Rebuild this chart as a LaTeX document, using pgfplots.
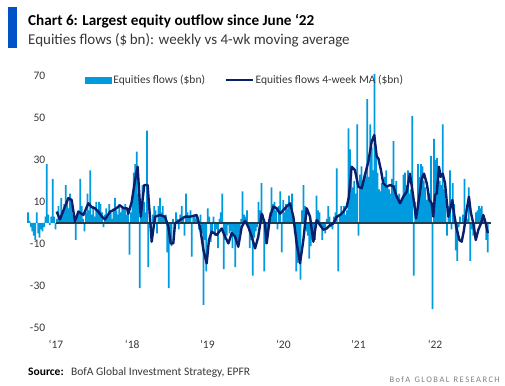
\documentclass[border=0pt]{standalone}
\usepackage{fontspec}
\setmainfont{Carlito}
\usepackage{pgfplots}
\pgfplotsset{compat=1.18}
\usepackage{pgfplotstable}

\definecolor{barblue}{RGB}{0,154,222}
\definecolor{navy}{RGB}{10,31,107}
\definecolor{zeroline}{RGB}{35,60,75}
\definecolor{titleblue}{RGB}{0,83,198}
\definecolor{txtgray}{RGB}{55,55,55}

% weekly equity flows ($bn), one value per week (index 0 = Aug 2016)
\pgfplotstableread[row sep=\\]{
v\\
5\\ 1\\ -2\\ -4\\ -6\\ -8\\ 5\\ -5\\ -7\\ -3\\
-4\\ -2\\ 3\\ 28\\ 4\\ -1\\ 3\\ 21\\ 3\\ -3\\
2\\ 8\\ 3\\ 12\\ 5\\ 9\\ 18\\ 11\\ 7\\ 14\\
9\\ 4\\ 2\\ -8\\ 3\\ 6\\ 21\\ 8\\ 2\\ -4\\
5\\ 14\\ 6\\ 25\\ 4\\ 8\\ 3\\ 10\\ 6\\ 10\\
9\\ 5\\ -2\\ 4\\ 7\\ 3\\ 9\\ 5\\ 2\\ 7\\
12\\ 6\\ 4\\ 9\\ 5\\ 8\\ 7\\ 9\\ 4\\ 6\\
-15\\ 5\\ 10\\ 24\\ 28\\ 34\\ 14\\ -31\\ 8\\ 18\\
10\\ 5\\ 44\\ -21\\ 6\\ -6\\ 4\\ 8\\ 6\\ -5\\
8\\ 12\\ 5\\ 8\\ 3\\ 4\\ -14\\ -31\\ -8\\ -11\\
2\\ -3\\ 5\\ 2\\ -3\\ 4\\ 8\\ 3\\ -6\\ 14\\
5\\ 3\\ 6\\ -16\\ 3\\ 4\\ 2\\ 3\\ -3\\ 4\\
-5\\ -39\\ -8\\ -23\\ 7\\ 3\\ -9\\ -4\\ 3\\ -6\\
-3\\ -12\\ 2\\ 5\\ 14\\ -22\\ -8\\ -6\\ -1\\ -5\\
-4\\ -12\\ -6\\ -21\\ -10\\ -8\\ -5\\ 2\\ 15\\ 4\\
3\\ 6\\ -2\\ -12\\ -8\\ -25\\ -7\\ -4\\ -2\\ 10\\
6\\ 19\\ 4\\ -23\\ -10\\ -6\\ 2\\ 5\\ 17\\ 9\\
10\\ 6\\ -3\\ 8\\ 15\\ -14\\ 11\\ 5\\ 9\\ 7\\
13\\ 6\\ 14\\ 3\\ -5\\ -23\\ -19\\ -16\\ -27\\ 6\\
18\\ 8\\ -4\\ -6\\ -17\\ -11\\ -8\\ -6\\ -8\\ 13\\
6\\ 5\\ -2\\ -8\\ -3\\ -5\\ 2\\ 8\\ 3\\ -2\\
-3\\ 3\\ 5\\ 26\\ -23\\ 4\\ 8\\ 5\\ 8\\ 4\\
6\\ 45\\ 35\\ 24\\ 17\\ 20\\ 14\\ 47\\ -6\\ 23\\
27\\ 18\\ 23\\ 22\\ 59\\ 22\\ 47\\ 36\\ 25\\ 71\\
33\\ 24\\ 16\\ 15\\ 19\\ 20\\ 22\\ 25\\ 17\\ 16\\
14\\ 21\\ 39\\ 18\\ 20\\ 13\\ 14\\ 10\\ 12\\ 23\\
24\\ 18\\ 25\\ 14\\ 16\\ 51\\ -25\\ 10\\ 4\\ 28\\
22\\ 28\\ 27\\ 20\\ 17\\ 11\\ 15\\ 14\\ 32\\ -41\\
40\\ 30\\ 31\\ 25\\ 20\\ 18\\ 47\\ 16\\ 11\\ -6\\
8\\ 25\\ -3\\ 19\\ 9\\ -13\\ -18\\ -2\\ 3\\ 0\\
4\\ 21\\ 3\\ 2\\ 17\\ -18\\ -3\\ -6\\ -4\\ 5\\
6\\ 8\\ 7\\ 8\\ 3\\ 2\\ -8\\ -14\\
}\weekly

% 4-week moving average ($bn) (x = week index)
\pgfplotstableread[row sep=\\]{
i v\\
19.8 5.4\\ 22 1.7\\ 25.5 7.8\\ 27.8 11.8\\ 30.1 11\\ 32.4 0.6\\ 34.7 5.4\\
38.2 3.8\\ 41.6 9.4\\ 44 7.5\\ 46.2 7\\ 48.5 5.4\\ 51 3\\ 53.1 1.7\\
56.6 5.4\\ 60 6.5\\ 63.4 8.4\\ 66 7\\ 68.3 7\\ 69.2 4.4\\ 71.5 10\\
73.8 20.3\\ 75.6 26.8\\ 77.7 3\\ 80.2 18.1\\ 82.5 18.1\\ 85.3 -8.9\\
87.6 3\\ 91 3.8\\ 94.5 3\\ 96.8 -1.8\\ 98.4 -9.7\\ 100.2 -9.7\\
101.4 -0.2\\ 104.8 1.4\\ 108.3 3\\ 111.7 3\\ 116.3 3.8\\ 118.6 -1.8\\
121 -12.9\\ 123.2 -19.2\\ 124.8 -8.1\\ 126.7 -4.1\\ 130.1 -5.7\\
133.6 -2.6\\ 135.9 -6.5\\ 138.2 -9.7\\ 140.5 -4.8\\ 142.8 -6.5\\
145 -11.3\\ 147.4 -1.8\\ 149.7 1\\ 151.9 -1.8\\ 154.3 -6.5\\
156.6 -12.1\\ 158.8 -6.5\\ 161.2 4.4\\ 163.4 -0.2\\ 164.6 -9.7\\
166.9 3\\ 169.2 7.8\\ 171.5 7\\ 173.8 4.4\\ 176.1 6.2\\ 178.4 7.8\\
180.7 9.4\\ 183 3\\ 185.3 -9.7\\ 187.6 -19.2\\ 189.9 -8.1\\ 192.2 7\\
194.5 3\\ 196.8 -8.9\\ 199.1 1.4\\ 201.4 -1\\ 203.7 -3.2\\ 206 -2.6\\
208.3 -1\\ 210.6 -0.2\\ 212.9 3\\ 215.2 3.8\\ 217.5 5.4\\ 219.8 7.8\\
221.2 12\\ 223.2 26.8\\ 225.5 25.2\\ 227.8 17.3\\ 230.1 16.5\\
232.4 22.9\\ 234.7 29.2\\ 237 38.7\\ 238.8 41.9\\ 240.5 31.6\\
241.6 30.8\\ 243.4 25.2\\ 245 18.9\\ 247.4 17.3\\ 249.7 18.1\\
252 17.3\\ 254.3 12.5\\ 256.6 9.4\\ 258.8 12.5\\ 261.2 14.9\\
263.4 23.5\\ 265.7 12.5\\ 267.6 2.2\\ 269.2 9.4\\ 271.5 21\\
273.1 23.5\\ 275 18.9\\ 276.8 11\\ 278.4 9.4\\ 279.5 3\\ 280.7 13.3\\
281.9 14.1\\ 283.4 26.8\\ 284.6 22\\ 286 23.5\\ 287.6 18.9\\ 288.7 11\\
289.9 3\\ 291 6.2\\ 292.6 11\\ 293.8 4.6\\ 295.6 -2.6\\ 297.5 -8.1\\
299.1 -8.9\\ 300.7 -3.2\\ 302.5 6.2\\ 304.1 12.5\\ 305.3 5.4\\
307.1 -0.2\\ 308.8 -8.1\\ 310.6 -3.2\\ 312.4 -0.2\\ 314 3.8\\
315.7 -0.2\\ 317.1 -4.8\\
}\mavg

\begin{document}
\begin{tikzpicture}
\useasboundingbox (0pt,0pt) rectangle (505pt,-385pt);
\fill[titleblue] (8.3pt,-7pt) rectangle (17.3pt,-48pt);
\node[anchor=base west, inner sep=0pt, font=\bfseries\fontsize{15.2}{18}\selectfont] at (28pt,-26pt) {Chart 6: Largest equity outflow since June ‘22};
\node[anchor=base west, inner sep=0pt, font=\fontsize{15}{18}\selectfont, text=txtgray] at (28pt,-45pt) {Equities flows (\$\,bn): weekly vs 4-wk moving average};
\begin{axis}[
  at={(25.1pt,-332.2pt)}, anchor=south west,
  scale only axis, width=469.8pt, height=264.6pt,
  xmin=-2, xmax=322, ymin=-52, ymax=74,
  axis line style={draw=none},
  major tick length=0pt,
  ytick={-50,-30,-10,10,30,50,70},
  yticklabels={-50,-30,-10,10,30,50,70},
  xtick={19.3,71.9,123.7,176.1,227.8,280.7},
  xticklabels={‘17,‘18,‘19,‘20,‘21,‘22},
  ticklabel style={font=\fontsize{11.5}{13}\selectfont, text=txtgray},
  yticklabel style={anchor=east, xshift=23.6pt},
  xticklabel style={yshift=-4pt},
  clip=false,
  legend columns=2,
  legend style={at={(0.127,0.953)}, anchor=west, draw=none, fill=none,
    inner sep=0pt, font=\fontsize{11.5}{13}\selectfont, text=txtgray,
    /tikz/every even column/.append style={column sep=18pt},
    nodes={inner sep=1.5pt}},
]
\addplot[ybar, bar width=1.75pt, fill=barblue, draw=none,
  legend image code/.code={\fill[barblue] (0pt,-3.5pt) rectangle (27pt,3.5pt);}]
  table[x expr=\coordindex, y=v]{\weekly};
\addlegendentry{Equities flows (\$bn)}
\addplot[zeroline, line width=1.5pt, forget plot] coordinates {(19.5,0) (319.5,0)};
\addplot[navy, line width=2.4pt, line join=round,
  legend image code/.code={\draw[navy, line width=2.5pt] (0pt,0pt) -- (27pt,0pt);}]
  table[x=i, y=v]{\mavg};
\addlegendentry{Equities flows 4-week MA (\$bn)}
\end{axis}
\node[anchor=base west, inner sep=0pt, font=\fontsize{11.5}{13}\selectfont, text=txtgray] at (28pt,-375pt) {\textbf{\color{black}Source:}\hspace{4pt} BofA Global Investment Strategy, EPFR};
\node[anchor=north east, inner sep=0pt, font=\fontsize{8.5}{10}\selectfont, text=gray] at (500pt,-376pt) {B\,o\,f\,A\; G\,L\,O\,B\,A\,L\; R\,E\,S\,E\,A\,R\,C\,H};
\end{tikzpicture}
\end{document}
